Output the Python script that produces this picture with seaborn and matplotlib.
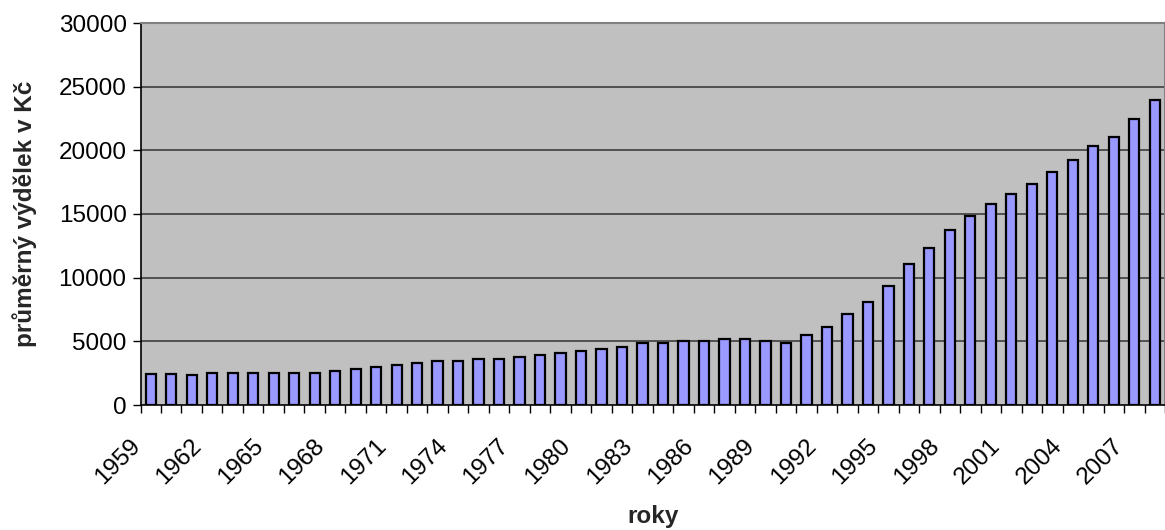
import matplotlib
matplotlib.use("Agg")
import matplotlib.pyplot as plt
import matplotlib.transforms as mtransforms
import seaborn as sns
import pandas as pd
from matplotlib.ticker import FixedLocator

years = list(range(1959, 2009))
wages = [
    2400, 2400, 2390, 2540, 2540, 2540, 2540, 2540, 2540, 2700,
    2830, 3010, 3170, 3330, 3460, 3460, 3610, 3610, 3770, 3960,
    4080, 4240, 4400, 4530, 4870, 4870, 5020, 5020, 5155, 5155,
    5020, 4870, 5470, 6130, 7185, 8110, 9370, 11110, 12300, 13750,
    14850, 15770, 16570, 17340, 18290, 19230, 20310, 21080, 22500, 23930,
]
y_ticks = [0, 5000, 10000, 15000, 20000, 25000, 30000]
x_title = "roky"
y_title = "průměrný výdělek v Kč"

sns.set_theme(style="white")
plt.rcParams["font.family"] = ["Liberation Sans", "DejaVu Sans"]
FS = 17.5

df = pd.DataFrame({"rok": [str(y) for y in years], "mzda": wages})

fig = plt.figure(figsize=(11.65, 5.30), dpi=100)
ax = fig.add_axes([140.5 / 1165, 1 - 405 / 530, (1165 - 140.5) / 1165, 382 / 530])
ax.set_facecolor("#C0C0C0")

sns.barplot(data=df, x="rok", y="mzda", color="#9999FF", saturation=1,
            edgecolor="black", linewidth=1.6, width=0.5, ax=ax, zorder=3)

ax.set_xlim(-0.5, len(years) - 0.5)
ax.set_ylim(0, 30000)
ax.set_yticks(y_ticks)
ax.set_yticklabels([str(v) for v in y_ticks], fontsize=FS, color="black")
for v in y_ticks[1:-1]:
    ax.axhline(v, color="#333333", linewidth=1.1, zorder=1)

# labels every third year, tick marks at category boundaries
label_pos = list(range(0, len(years), 3))
ax.xaxis.set_major_locator(FixedLocator(label_pos))
ax.xaxis.set_minor_locator(FixedLocator([i - 0.5 for i in range(len(years) + 1)]))
ax.tick_params(axis="x", which="major", length=0, pad=27)
ax.tick_params(axis="x", which="minor", length=6, width=1, color="black", direction="out", bottom=True)
ax.tick_params(axis="y", length=6, width=1, color="black", direction="out", left=True, pad=4)
ax.set_xticklabels([str(years[i]) for i in label_pos], rotation=45,
                   ha="right", va="center", rotation_mode="anchor",
                   fontsize=FS, color="black")
shift = mtransforms.ScaledTranslation(-14 / 100, 0, fig.dpi_scale_trans)
for tick in ax.xaxis.get_major_ticks():
    tick.label1.set_transform(tick.label1.get_transform() + shift)

for side in ("left", "bottom"):
    ax.spines[side].set_color("black")
    ax.spines[side].set_linewidth(1.2)
for side in ("top", "right"):
    ax.spines[side].set_color("#808080")
    ax.spines[side].set_linewidth(1.5)

ax.set_xlabel(x_title, fontsize=FS, fontweight="bold")
ax.set_ylabel(y_title, fontsize=FS, fontweight="bold")
ax.xaxis.set_label_coords(0.5, (405 - 517) / 382)
ax.xaxis.label.set_va("center")
ax.yaxis.set_label_coords((25 - 140.5) / 1024.5, 0.501)
ax.yaxis.label.set_va("center")

fig.savefig("out.png", dpi=100)
